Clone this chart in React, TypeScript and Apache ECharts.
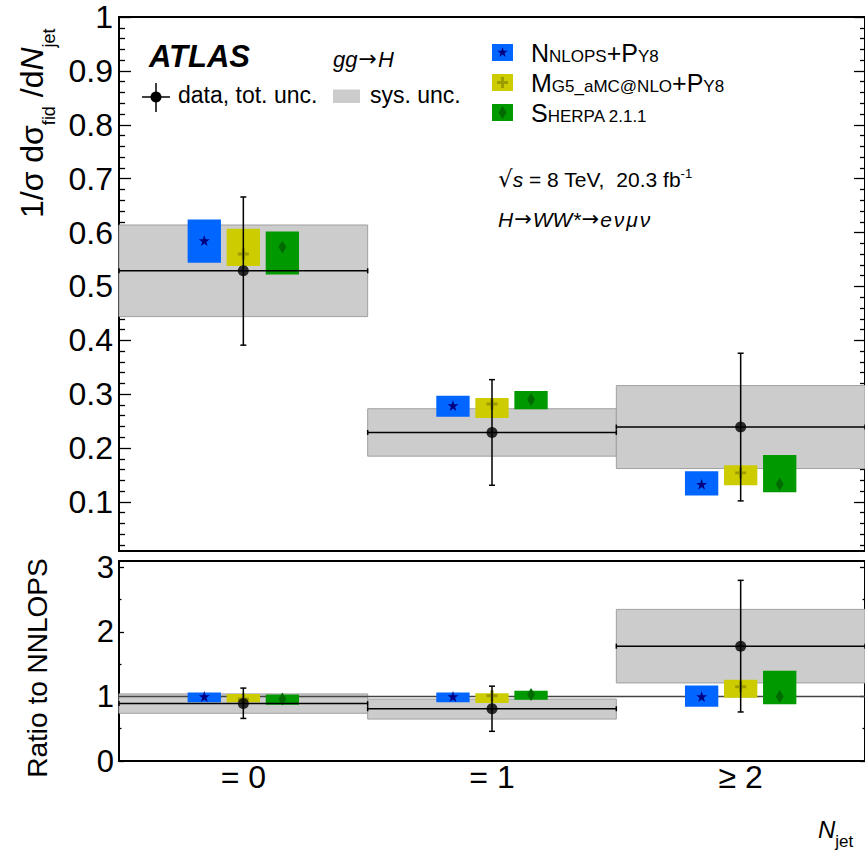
import React, { useEffect, useRef } from 'react';
import * as echarts from 'echarts';

const FF = '"Liberation Sans", Arial, Helvetica, sans-serif';
const FF_SYM = '"DejaVu Sans", sans-serif';

// ---------------- data ----------------
const BINS = ['= 0', '= 1', '≥ 2'];

// upper panel: 1/sigma dsigma/dNjet
const DATA_VAL = [0.529, 0.229, 0.239];
const DATA_TOT_LO = [0.391, 0.131, 0.102];
const DATA_TOT_HI = [0.666, 0.327, 0.376];
const DATA_SYS_LO = [0.444, 0.185, 0.162];
const DATA_SYS_HI = [0.614, 0.273, 0.316];

const NNLOPS_VAL = [0.585, 0.279, 0.133];
const NNLOPS_LO = [0.544, 0.258, 0.112];
const NNLOPS_HI = [0.624, 0.297, 0.157];
const MG5_VAL = [0.56, 0.282, 0.154];
const MG5_LO = [0.538, 0.256, 0.131];
const MG5_HI = [0.607, 0.293, 0.168];
const SHERPA_VAL = [0.573, 0.29, 0.133];
const SHERPA_LO = [0.522, 0.272, 0.118];
const SHERPA_HI = [0.602, 0.306, 0.187];

// lower panel: ratio to NNLOPS
const R_DATA_VAL = [0.89, 0.81, 1.78];
const R_DATA_TOT_LO = [0.66, 0.46, 0.76];
const R_DATA_TOT_HI = [1.13, 1.16, 2.8];
const R_DATA_SYS_LO = [0.74, 0.65, 1.21];
const R_DATA_SYS_HI = [1.04, 0.96, 2.35];

const R_NNLOPS_VAL = [1, 1, 1];
const R_NNLOPS_LO = [0.91, 0.91, 0.84];
const R_NNLOPS_HI = [1.06, 1.06, 1.17];
const R_MG5_VAL = [0.96, 1.01, 1.15];
const R_MG5_LO = [0.91, 0.9, 0.98];
const R_MG5_HI = [1.04, 1.05, 1.26];
const R_SHERPA_VAL = [0.96, 1.03, 1.0];
const R_SHERPA_LO = [0.87, 0.95, 0.88];
const R_SHERPA_HI = [1.03, 1.09, 1.4];

const TOP_Y_TICKS = [0.1, 0.2, 0.3, 0.4, 0.5, 0.6, 0.7, 0.8, 0.9, 1];
const TOP_Y_MIN = 0.009;
const TOP_Y_MAX = 1;
const RATIO_Y_TICKS = [0, 1, 2, 3];
const RATIO_Y_MINOR = [0.5, 1.5, 2.5];
const RATIO_Y_MIN = 0;
const RATIO_Y_MAX = 3.1;
const RATIO_REF = 1;

// ---------------- styling / layout ----------------
function topMinorTicks() {
  const out: number[] = [];
  for (let i = 1; i < 50; i++) if (i % 5 !== 0) out.push((i * 2) / 100);
  return out;
}

function starPoints(cx: number, cy: number, R: number) {
  const pts: number[][] = [];
  for (let k = 0; k < 10; k++) {
    const r = k % 2 === 0 ? R : R * 0.382;
    const a = (-90 + 36 * k) * Math.PI / 180;
    pts.push([cx + r * Math.cos(a), cy + r * Math.sin(a)]);
  }
  return pts;
}
const STAR_PATH = 'path://' + starPoints(0, 0, 1).map((p, i) => (i ? 'L' : 'M') + p[0].toFixed(4) + ',' + p[1].toFixed(4)).join('') + 'Z';
const PLUS_PATH = 'path://M-1,-0.27L-0.27,-0.27L-0.27,-1L0.27,-1L0.27,-0.27L1,-0.27L1,0.27L0.27,0.27L0.27,1L-0.27,1L-0.27,0.27L-1,0.27Z';

const BOX_W = 0.134;
const GENS = [
  { box: '#0066ff', mark: '#000080', symbol: STAR_PATH, size: 11, dx: -0.157,
    top: [NNLOPS_LO, NNLOPS_HI, NNLOPS_VAL], ratio: [R_NNLOPS_LO, R_NNLOPS_HI, R_NNLOPS_VAL] },
  { box: '#cccc00', mark: '#9c9c00', symbol: PLUS_PATH, size: 11, dx: 0,
    top: [MG5_LO, MG5_HI, MG5_VAL], ratio: [R_MG5_LO, R_MG5_HI, R_MG5_VAL] },
  { box: '#009900', mark: '#006a00', symbol: 'diamond', size: [8, 13], dx: 0.157,
    top: [SHERPA_LO, SHERPA_HI, SHERPA_VAL], ratio: [R_SHERPA_LO, R_SHERPA_HI, R_SHERPA_VAL] },
];

// ---------------- text helpers ----------------
let measureCtx: CanvasRenderingContext2D | null = null;
function tw(s: string, font: string) {
  if (!measureCtx) measureCtx = document.createElement('canvas').getContext('2d');
  measureCtx!.font = font;
  return measureCtx!.measureText(s).width;
}
type Part = { t: string; s: number; it?: boolean; b?: boolean; dy?: number; c?: string; gap?: number; f?: string };
function fontOf(p: Part) {
  return `${p.it ? 'italic ' : ''}${p.b ? 'bold ' : ''}${p.s}px ${p.f || FF}`;
}
function run(x0: number, base: number, parts: Part[]) {
  let x = x0;
  const els: any[] = [];
  for (const p of parts) {
    const font = fontOf(p);
    x += p.gap || 0;
    els.push({
      type: 'text', x, y: base + (p.dy || 0) - 0.3465 * p.s, silent: true, z: 10,
      style: { text: p.t, font, fill: p.c || '#000', textAlign: 'left', verticalAlign: 'middle' },
    });
    x += tw(p.t, font);
  }
  return els;
}
function runWidth(parts: Part[]) {
  return parts.reduce((a, p) => a + (p.gap || 0) + tw(p.t, fontOf(p)), 0);
}
const ARROW = (s: number, gap = 1): Part => ({ t: '→', s, f: FF_SYM, gap, dy: -1 });

// ---------------- series builders ----------------
function sysSeries(xi: number, yi: number, lo: number[], hi: number[]) {
  return {
    type: 'custom', xAxisIndex: xi, yAxisIndex: yi, z: 1, silent: true,
    data: BINS.map((_, i) => [i, lo[i], hi[i]]),
    encode: { x: 0, y: [1, 2] },
    renderItem: (_p: any, api: any) => {
      const b = api.value(0);
      const a = api.coord([b, api.value(2)]);
      const c = api.coord([b + 1, api.value(1)]);
      return {
        type: 'rect',
        shape: { x: a[0], y: a[1], width: c[0] - a[0], height: c[1] - a[1] },
        style: { fill: '#cccccc', stroke: '#a0a0a0', lineWidth: 1 },
      };
    },
  };
}
function boxSeries(xi: number, yi: number, lo: number[], hi: number[], color: string, dx: number) {
  return {
    type: 'custom', xAxisIndex: xi, yAxisIndex: yi, z: 3, silent: true,
    data: BINS.map((_, i) => [i, lo[i], hi[i]]),
    encode: { x: 0, y: [1, 2] },
    renderItem: (_p: any, api: any) => {
      const b = api.value(0);
      const x0 = b + 0.5 + dx - BOX_W / 2;
      const a = api.coord([x0, api.value(2)]);
      const c = api.coord([x0 + BOX_W, api.value(1)]);
      return {
        type: 'rect',
        shape: { x: a[0], y: a[1], width: c[0] - a[0], height: c[1] - a[1] },
        style: { fill: color },
      };
    },
  };
}
function markerSeries(xi: number, yi: number, val: number[], g: any) {
  return {
    type: 'scatter', xAxisIndex: xi, yAxisIndex: yi, z: 4, silent: true,
    symbol: g.symbol, symbolSize: g.size,
    itemStyle: { color: g.mark, opacity: 1 },
    data: BINS.map((_, i) => [i + 0.5 + g.dx, val[i]]),
  };
}
function dataSeries(xi: number, yi: number, val: number[], lo: number[], hi: number[]) {
  return [
    {
      type: 'custom', xAxisIndex: xi, yAxisIndex: yi, z: 5, silent: true,
      data: BINS.map((_, i) => [i, val[i], lo[i], hi[i]]),
      encode: { x: 0, y: [1, 2, 3] },
      renderItem: (_p: any, api: any) => {
        const b = api.value(0);
        const pL = api.coord([b, api.value(1)]);
        const pR = api.coord([b + 1, api.value(1)]);
        const pl = api.coord([b + 0.5, api.value(2)]);
        const ph = api.coord([b + 0.5, api.value(3)]);
        const st = { stroke: '#000', lineWidth: 1.5 };
        const ln = (x1: number, y1: number, x2: number, y2: number) => ({ type: 'line', shape: { x1, y1, x2, y2 }, style: st });
        return {
          type: 'group',
          children: [
            ln(pL[0], pL[1], pR[0], pR[1]),
            ln(pL[0], pL[1] - 2.5, pL[0], pL[1] + 2.5),
            ln(pR[0], pR[1] - 2.5, pR[0], pR[1] + 2.5),
            ln(pl[0], pl[1], ph[0], ph[1]),
            ln(pl[0] - 3, pl[1], pl[0] + 3, pl[1]),
            ln(ph[0] - 3, ph[1], ph[0] + 3, ph[1]),
          ],
        };
      },
    },
    {
      type: 'scatter', xAxisIndex: xi, yAxisIndex: yi, z: 6, silent: true,
      symbol: 'circle', symbolSize: 11, itemStyle: { color: '#000' },
      data: BINS.map((_, i) => [i + 0.5, val[i]]),
    },
  ];
}

// ---------------- axes ----------------
function frameX(gridIndex: number, position: string, extra: any = {}) {
  return {
    type: 'value', gridIndex, position, min: 0, max: 3,
    axisLine: { show: true, onZero: false, lineStyle: { color: '#000', width: 2 } },
    axisTick: { show: false },
    axisLabel: { show: false },
    splitLine: { show: false },
    ...extra,
  };
}
function yAx(gridIndex: number, position: string, min: number, max: number, ticks: number[], len: number, label?: any) {
  return {
    type: 'value', gridIndex, position, min, max,
    axisLine: { show: true, onZero: false, lineStyle: { color: '#000', width: 2 } },
    axisTick: { show: true, inside: true, length: len, customValues: ticks, lineStyle: { color: '#000', width: 1.3 } },
    axisLabel: label ? { show: true, customValues: ticks, color: '#000', fontFamily: FF, ...label } : { show: false },
    splitLine: { show: false },
    minorTick: { show: false },
  };
}

function buildGraphic() {
  const els: any[] = [];
  // y title, upper
  const yTitle: Part[] = [
    { t: '1/σ dσ', s: 32 },
    { t: 'fid', s: 18, dy: 12 },
    { t: '/d', s: 32, gap: tw(' ', `32px ${FF}`) },
    { t: 'N', s: 32, it: true },
    { t: 'jet', s: 18, dy: 12 },
  ];
  els.push({ type: 'group', x: 43, y: 218, rotation: Math.PI / 2, children: run(0, 0, yTitle) });
  // y title, ratio
  const rTitle: Part[] = [{ t: 'Ratio to NNLOPS', s: 28 }];
  const rw = runWidth(rTitle);
  els.push({ type: 'group', x: 47, y: 668, rotation: Math.PI / 2, children: run(-rw / 2, 0, rTitle) });
  // x title
  els.push(...run(818, 838, [{ t: 'N', s: 24, it: true }, { t: 'jet', s: 17, dy: 9 }]));

  // ATLAS + process
  els.push(...run(149, 67, [{ t: 'ATLAS', s: 31, it: true, b: true }]));
  els.push(...run(333, 67, [{ t: 'gg', s: 22, it: true }, ARROW(22), { t: 'H', s: 22, it: true, gap: 1 }]));

  // data legend
  const ls = { stroke: '#000', lineWidth: 1.5 };
  els.push({ type: 'line', z: 10, shape: { x1: 142, y1: 97, x2: 170, y2: 97 }, style: ls });
  els.push({ type: 'line', z: 10, shape: { x1: 156, y1: 83, x2: 156, y2: 112 }, style: ls });
  els.push({ type: 'circle', z: 10, shape: { cx: 156, cy: 97, r: 5.5 }, style: { fill: '#000' } });
  els.push(...run(178, 103, [{ t: 'data, tot. unc.', s: 23 }]));
  els.push({ type: 'rect', z: 10, shape: { x: 333, y: 89.5, width: 27, height: 13.5 }, style: { fill: '#cccccc' } });
  els.push(...run(370, 103, [{ t: 'sys. unc.', s: 23 }]));

  // generator legend
  const rows: Part[][] = [
    [{ t: 'N', s: 25 }, { t: 'NLOPS', s: 17 }, { t: '+P', s: 25 }, { t: 'Y8', s: 17 }],
    [{ t: 'M', s: 25 }, { t: 'G5_aMC@NLO', s: 17 }, { t: '+P', s: 25 }, { t: 'Y8', s: 17 }],
    [{ t: 'S', s: 25 }, { t: 'HERPA 2.1.1', s: 17 }],
  ];
  const bases = [62, 92, 122];
  rows.forEach((parts, i) => {
    const g = GENS[i];
    const by = bases[i] - 18;
    els.push({ type: 'rect', z: 10, shape: { x: 492, y: by, width: 21, height: 17 }, style: { fill: g.box } });
    const cx = 502.5, cy = by + 8.5;
    if (i === 0) {
      els.push({ type: 'polygon', z: 11, shape: { points: starPoints(cx, cy, 5.5) }, style: { fill: g.mark } });
    } else if (i === 1) {
      els.push({ type: 'rect', z: 11, shape: { x: cx - 5.5, y: cy - 1.5, width: 11, height: 3 }, style: { fill: g.mark } });
      els.push({ type: 'rect', z: 11, shape: { x: cx - 1.5, y: cy - 5.5, width: 3, height: 11 }, style: { fill: g.mark } });
    } else {
      els.push({ type: 'polygon', z: 11, shape: { points: [[cx, cy - 6.5], [cx + 4, cy], [cx, cy + 6.5], [cx - 4, cy]] }, style: { fill: g.mark } });
    }
    els.push(...run(531, bases[i], parts));
  });

  // energy / lumi
  els.push(...run(498, 187, [
    { t: '√', s: 23, f: FF_SYM },
    { t: 's', s: 21, it: true },
    { t: '= 8 TeV,', s: 21, gap: tw(' ', `21px ${FF}`) },
    { t: '20.3 fb', s: 21, gap: 2 * tw(' ', `21px ${FF}`) },
    { t: '-1', s: 13, dy: -9 },
  ]));
  els.push(...run(498, 227, [
    { t: 'H', s: 21, it: true },
    ARROW(21),
    { t: 'WW*', s: 21, it: true, gap: 1 },
    ARROW(21),
    { t: 'e', s: 21, it: true, gap: 1 },
    { t: 'ν', s: 21, it: true, gap: 2 },
    { t: 'μ', s: 21, it: true, gap: 2 },
    { t: 'ν', s: 21, it: true, gap: 2 },
  ]));
  return els;
}

export default function App() {
  const ref = useRef<HTMLDivElement>(null);
  useEffect(() => {
    if (!ref.current) return;
    const chart = echarts.init(ref.current, null, { renderer: 'svg' });
    const series: any[] = [];
    // upper panel
    series.push(sysSeries(0, 0, DATA_SYS_LO, DATA_SYS_HI));
    GENS.forEach((g) => {
      series.push(boxSeries(0, 0, g.top[0], g.top[1], g.box, g.dx));
      series.push(markerSeries(0, 0, g.top[2], g));
    });
    series.push(...dataSeries(0, 0, DATA_VAL, DATA_TOT_LO, DATA_TOT_HI));
    // ratio panel
    series.push(sysSeries(2, 4, R_DATA_SYS_LO, R_DATA_SYS_HI));
    series.push({
      type: 'line', xAxisIndex: 2, yAxisIndex: 4, z: 2, silent: true, symbol: 'none',
      lineStyle: { color: '#444', width: 1.5 },
      data: [[0, RATIO_REF], [3, RATIO_REF]],
    });
    GENS.forEach((g) => {
      series.push(boxSeries(2, 4, g.ratio[0], g.ratio[1], g.box, g.dx));
      series.push(markerSeries(2, 4, g.ratio[2], g));
    });
    series.push(...dataSeries(2, 4, R_DATA_VAL, R_DATA_TOT_LO, R_DATA_TOT_HI));

    const topMinor = topMinorTicks();
    chart.setOption({
      animation: false,
      backgroundColor: '#fff',
      grid: [
        { left: 119, right: 0, top: 17, height: 534 },
        { left: 119, right: 0, top: 561, height: 200 },
      ],
      xAxis: [
        frameX(0, 'bottom'),
        frameX(0, 'top'),
        frameX(1, 'bottom', {
          axisLabel: {
            show: true, customValues: [0.5, 1.5, 2.5], margin: 0,
            formatter: (v: number) => BINS[Math.floor(v)],
            fontSize: 32, fontFamily: FF, color: '#000',
          },
        }),
        frameX(1, 'top'),
      ],
      yAxis: [
        yAx(0, 'left', TOP_Y_MIN, TOP_Y_MAX, TOP_Y_TICKS, 12, {
          fontSize: 32, margin: 6, formatter: (v: number) => (v === 1 ? '1' : v.toFixed(1)),
        }),
        yAx(0, 'left', TOP_Y_MIN, TOP_Y_MAX, topMinor, 6),
        yAx(0, 'right', TOP_Y_MIN, TOP_Y_MAX, TOP_Y_TICKS, 11),
        yAx(0, 'right', TOP_Y_MIN, TOP_Y_MAX, topMinor, 5),
        yAx(1, 'left', RATIO_Y_MIN, RATIO_Y_MAX, RATIO_Y_TICKS, 5, {
          fontSize: 31, margin: 5, formatter: (v: number) => String(v),
        }),
        yAx(1, 'left', RATIO_Y_MIN, RATIO_Y_MAX, RATIO_Y_MINOR, 2.5),
        yAx(1, 'right', RATIO_Y_MIN, RATIO_Y_MAX, RATIO_Y_TICKS, 5),
        yAx(1, 'right', RATIO_Y_MIN, RATIO_Y_MAX, RATIO_Y_MINOR, 2.5),
      ],
      series,
      graphic: buildGraphic(),
    });
    return () => chart.dispose();
  }, []);
  return (
    <div
      ref={ref}
      style={{ position: 'fixed', left: 0, top: 0, width: 865, height: 856, background: '#fff' }}
    />
  );
}
